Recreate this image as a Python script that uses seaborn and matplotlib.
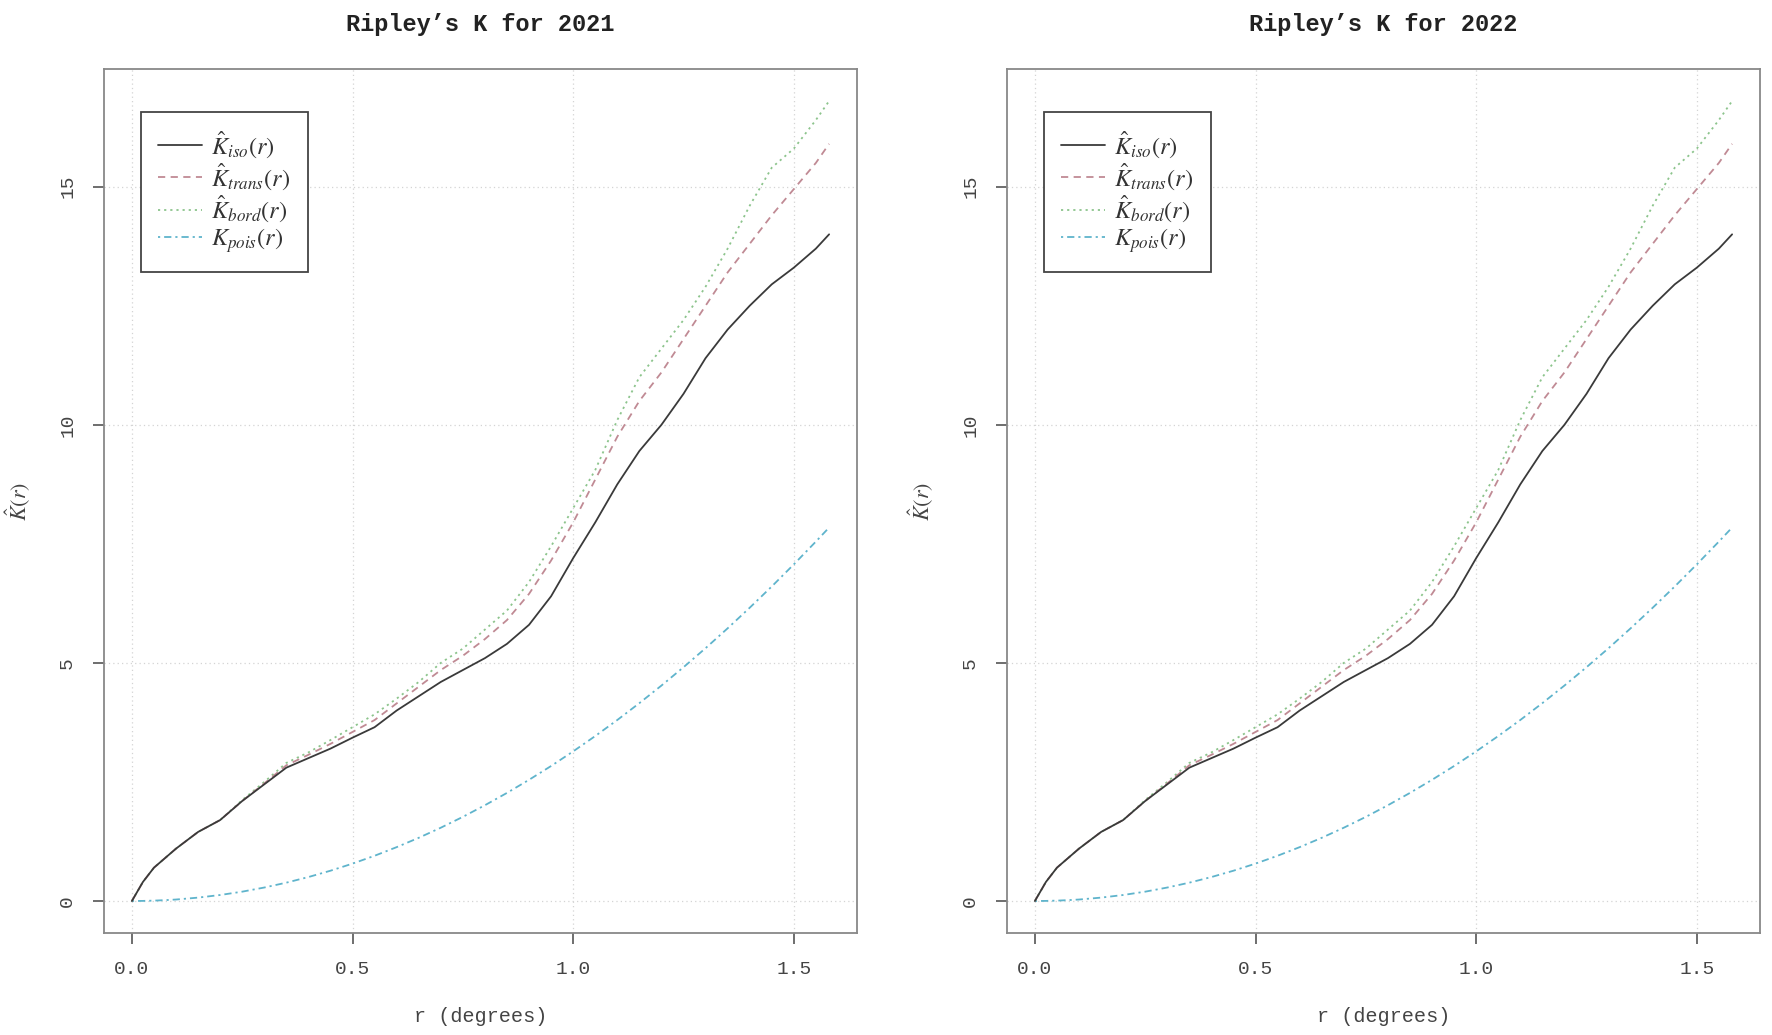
import numpy as np
import pandas as pd
import matplotlib
matplotlib.use("Agg")
import matplotlib.pyplot as plt
import seaborn as sns

# ---------------- data ----------------
years = ["2021", "2022"]
r_deg = [0.0, 0.025, 0.05, 0.075, 0.1, 0.15, 0.2, 0.25, 0.3, 0.35, 0.4, 0.45, 0.5,
         0.55, 0.6, 0.65, 0.7, 0.75, 0.8, 0.85, 0.9, 0.95, 1.0, 1.05, 1.1, 1.15,
         1.2, 1.25, 1.3, 1.35, 1.4, 1.45, 1.5, 1.55, 1.58]

k_iso_2021 = [0.0, 0.4, 0.7, 0.9, 1.1, 1.45, 1.7, 2.1, 2.45, 2.8, 3.0, 3.2, 3.43,
              3.65, 4.0, 4.3, 4.6, 4.85, 5.1, 5.4, 5.8, 6.4, 7.2, 7.95, 8.75, 9.45,
              10.0, 10.65, 11.4, 12.0, 12.5, 12.95, 13.3, 13.7, 14.0]
k_trans_2021 = [0.0, 0.4, 0.7, 0.9, 1.1, 1.45, 1.7, 2.1, 2.47, 2.85, 3.07, 3.3, 3.55,
                3.8, 4.15, 4.5, 4.85, 5.15, 5.5, 5.9, 6.45, 7.15, 7.95, 8.85, 9.75, 10.5,
                11.1, 11.8, 12.5, 13.2, 13.8, 14.4, 14.95, 15.5, 15.9]
k_bord_2021 = [0.0, 0.4, 0.7, 0.9, 1.1, 1.45, 1.7, 2.12, 2.5, 2.9, 3.12, 3.38, 3.65,
               3.92, 4.25, 4.6, 5.0, 5.3, 5.7, 6.1, 6.7, 7.45, 8.25, 9.05, 10.1, 11.0,
               11.6, 12.2, 12.9, 13.7, 14.6, 15.4, 15.8, 16.4, 16.8]
k_pois_2021 = [0.0, 0.002, 0.008, 0.018, 0.031, 0.071, 0.126, 0.196, 0.283, 0.385,
               0.503, 0.636, 0.785, 0.95, 1.131, 1.327, 1.539, 1.767, 2.011, 2.27,
               2.545, 2.835, 3.142, 3.464, 3.801, 4.155, 4.524, 4.909, 5.309, 5.726,
               6.158, 6.605, 7.069, 7.548, 7.843]

k_iso_2022 = [0.0, 0.4, 0.7, 0.9, 1.1, 1.45, 1.7, 2.1, 2.45, 2.8, 3.0, 3.2, 3.43,
              3.65, 4.0, 4.3, 4.6, 4.85, 5.1, 5.4, 5.8, 6.4, 7.2, 7.95, 8.75, 9.45,
              10.0, 10.65, 11.4, 12.0, 12.5, 12.95, 13.3, 13.7, 14.0]
k_trans_2022 = [0.0, 0.4, 0.7, 0.9, 1.1, 1.45, 1.7, 2.1, 2.47, 2.85, 3.07, 3.3, 3.55,
                3.8, 4.15, 4.5, 4.85, 5.15, 5.5, 5.9, 6.45, 7.15, 7.95, 8.85, 9.75, 10.5,
                11.1, 11.8, 12.5, 13.2, 13.8, 14.4, 14.95, 15.5, 15.9]
k_bord_2022 = [0.0, 0.4, 0.7, 0.9, 1.1, 1.45, 1.7, 2.12, 2.5, 2.9, 3.12, 3.38, 3.65,
               3.92, 4.25, 4.6, 5.0, 5.3, 5.7, 6.1, 6.7, 7.45, 8.25, 9.05, 10.1, 11.0,
               11.6, 12.2, 12.9, 13.7, 14.6, 15.4, 15.8, 16.4, 16.8]
k_pois_2022 = [0.0, 0.002, 0.008, 0.018, 0.031, 0.071, 0.126, 0.196, 0.283, 0.385,
               0.503, 0.636, 0.785, 0.95, 1.131, 1.327, 1.539, 1.767, 2.011, 2.27,
               2.545, 2.835, 3.142, 3.464, 3.801, 4.155, 4.524, 4.909, 5.309, 5.726,
               6.158, 6.605, 7.069, 7.548, 7.843]

series_labels = [r"$\hat{K}_{iso}(r)$", r"$\hat{K}_{trans}(r)$",
                 r"$\hat{K}_{bord}(r)$", r"$K_{pois}(r)$"]
x_ticks = [0.0, 0.5, 1.0, 1.5]
y_ticks = [0, 5, 10, 15]

# ---------------- style ----------------
sns.set_theme(style="white")
plt.rcParams["font.family"] = ["Liberation Mono", "DejaVu Sans Mono"]
plt.rcParams["mathtext.fontset"] = "stix"

colors = ["#3a3a3a", "#c08a94", "#8cc48c", "#5fb4cc"]
styles = ["-", (0, (4, 3)), (0, (1.2, 2.2)), (0, (1.2, 2.2, 4, 2.2))]
widths = [1.3, 1.3, 1.3, 1.3]

fig = plt.figure(figsize=(17.72, 10.35), dpi=100)
ax_pos = [[104 / 1772, 102 / 1035, 753 / 1772, 864 / 1035],
          [1007 / 1772, 102 / 1035, 753 / 1772, 864 / 1035]]

data_by_year = {
    "2021": [k_iso_2021, k_trans_2021, k_bord_2021, k_pois_2021],
    "2022": [k_iso_2022, k_trans_2022, k_bord_2022, k_pois_2022],
}

for i, yr in enumerate(years):
    ax = fig.add_axes(ax_pos[i])
    vals = data_by_year[yr]
    ymax = max(max(v) for v in vals)
    xmax = max(r_deg)
    ax.set_xlim(-0.04 * xmax, xmax * 1.04)
    ax.set_ylim(-0.04 * ymax, ymax * 1.04)
    # grid
    for xt in x_ticks:
        ax.axvline(xt, color="#d4d4d4", lw=0.9, ls=(0, (1, 2.5)), zorder=0)
    for yt in y_ticks:
        ax.axhline(yt, color="#d4d4d4", lw=0.9, ls=(0, (1, 2.5)), zorder=0)
    for k in [3, 2, 1, 0]:
        df = pd.DataFrame({"r": r_deg, "K": vals[k]})
        sns.lineplot(data=df, x="r", y="K", ax=ax, color=colors[k],
                     linestyle=styles[k], linewidth=widths[k])
    lines = ax.get_lines()[-4:][::-1]
    leg = ax.legend(handles=lines, labels=series_labels, loc="upper left",
                    bbox_to_anchor=(37 / 753, 1 - 43 / 864), frameon=True,
                    fancybox=False, framealpha=1, edgecolor="#444444",
                    fontsize=17.5, handlelength=1.8, handletextpad=0.4,
                    labelspacing=0.08, borderpad=0.7, borderaxespad=0.0)
    leg.get_frame().set_linewidth(1.3)
    for t in leg.get_texts():
        t.set_color("#333333")

    ax.set_xticks(x_ticks)
    ax.set_xticklabels(["0.0", "0.5", "1.0", "1.5"])
    ax.set_yticks(y_ticks)
    ax.set_yticklabels([str(v) for v in y_ticks], rotation=90, va="center")
    ax.tick_params(axis="both", which="major", direction="out", length=8,
                   width=1.2, color="#555555", labelsize=14, labelcolor="#444444",
                   bottom=True, left=True)
    ax.tick_params(axis="x", pad=12)
    ax.tick_params(axis="y", pad=12)
    for s in ax.spines.values():
        s.set_color("#888888")
        s.set_linewidth(1.3)

    ax.set_xlabel("r (degrees)", fontsize=14.5, color="#444444")
    ax.xaxis.set_label_coords(0.5, -(1017 - 933) / 864)
    ax.xaxis.label.set_va("center")
    ax.set_ylabel(r"$\hat{K}(r)$", fontsize=16, color="#444444")
    ax.yaxis.set_label_coords(-86 / 753, 0.5)
    ax.yaxis.label.set_va("center")

    ax.set_title("Ripley\u2019s K for " + yr, fontsize=17, fontweight="bold",
                 color="#222222", pad=27)

fig.savefig("out.png", dpi=100)
